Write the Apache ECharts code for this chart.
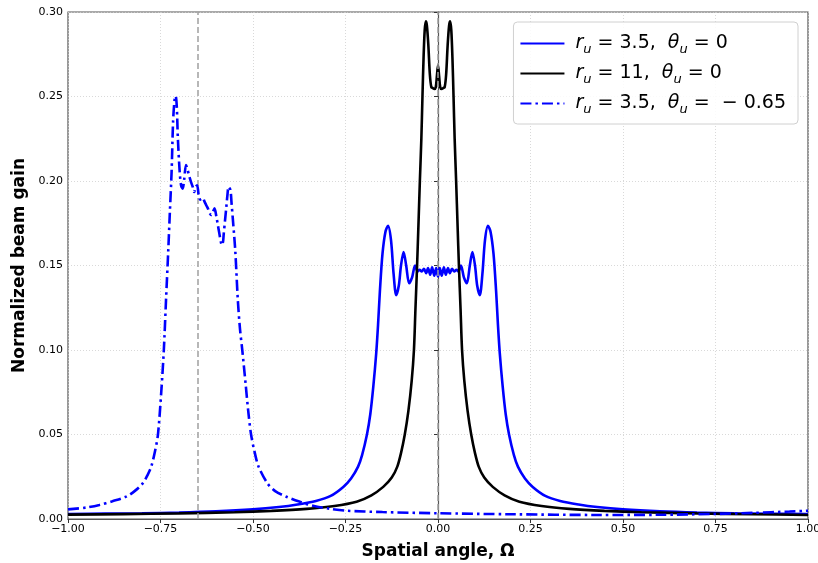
<!DOCTYPE html>
<html>
<head>
<meta charset="utf-8">
<script src="https://cdn.jsdelivr.net/npm/echarts@6/dist/echarts.min.js"></script>
<style>html,body{margin:0;padding:0;background:#fff}#c{width:818px;height:563px}</style>
</head>
<body>
<div id="c"></div>
<script>
// ---- data ----
const xTicks = [-1.0, -0.75, -0.5, -0.25, 0.0, 0.25, 0.5, 0.75, 1.0];
const yTicks = [0.0, 0.05, 0.10, 0.15, 0.20, 0.25, 0.30];
const refLines = [-0.65, 0];

// r_u = 3.5, theta_u = 0
const omegaA = [-1.0,-0.9,-0.8,-0.7,-0.6,-0.5,-0.43,-0.38,-0.33,-0.29,-0.256,-0.235,-0.216,-0.205,-0.192,-0.183,-0.175,-0.167,-0.162,-0.157,-0.15,-0.142,-0.135,-0.127,-0.12,-0.113,-0.106,-0.1,-0.093,-0.086,-0.078,-0.07,-0.062,-0.055,-0.05,-0.044,-0.038,-0.032,-0.027,-0.021,-0.016,-0.01,-0.005,0,
  0.005,0.01,0.016,0.021,0.027,0.032,0.038,0.044,0.05,0.055,0.062,0.07,0.078,0.086,0.093,0.1,0.106,0.113,0.12,0.127,0.135,0.142,0.15,0.157,0.162,0.167,0.175,0.183,0.192,0.205,0.216,0.235,0.256,0.29,0.33,0.38,0.43,0.5,0.6,0.7,0.8,0.9,1.0];
const gainA = [0.0030,0.0032,0.0034,0.0038,0.0045,0.0057,0.0071,0.0086,0.0107,0.0137,0.019,0.024,0.031,0.038,0.050,0.062,0.078,0.098,0.115,0.135,0.157,0.170,0.1735,0.165,0.145,0.1325,0.138,0.150,0.158,0.150,0.1395,0.143,0.150,0.1465,0.1475,0.1465,0.148,0.1455,0.1485,0.1445,0.149,0.144,0.1485,0.1435,
  0.1485,0.144,0.149,0.1445,0.1485,0.1455,0.148,0.1465,0.1475,0.1465,0.150,0.143,0.1395,0.150,0.158,0.150,0.138,0.1325,0.145,0.165,0.1735,0.170,0.157,0.135,0.115,0.098,0.078,0.062,0.050,0.038,0.031,0.024,0.019,0.0137,0.0107,0.0086,0.0071,0.0057,0.0045,0.0038,0.0034,0.0031,0.0029];

// r_u = 11, theta_u = 0
const omegaB = [-1.0,-0.85,-0.7,-0.55,-0.45,-0.355,-0.28,-0.22,-0.18,-0.148,-0.125,-0.11,-0.1,-0.09,-0.08,-0.071,-0.065,-0.061,-0.0565,-0.053,-0.049,-0.045,-0.042,-0.039,-0.036,-0.033,-0.03,-0.026,-0.022,-0.018,-0.014,-0.01,-0.006,-0.003,0,
  0.003,0.006,0.01,0.014,0.018,0.022,0.026,0.03,0.033,0.036,0.039,0.042,0.045,0.049,0.053,0.0565,0.061,0.065,0.071,0.08,0.09,0.1,0.11,0.125,0.148,0.18,0.22,0.28,0.355,0.45,0.55,0.7,0.85,1.0];
const gainB = [0.0026,0.0029,0.0033,0.0040,0.0048,0.0060,0.0077,0.0102,0.0140,0.019,0.0245,0.031,0.039,0.0497,0.064,0.082,0.100,0.124,0.150,0.173,0.200,0.225,0.250,0.273,0.289,0.2945,0.292,0.280,0.263,0.2555,0.255,0.2545,0.2555,0.262,0.2685,
  0.262,0.2555,0.2545,0.255,0.2555,0.263,0.280,0.292,0.2945,0.289,0.273,0.250,0.225,0.200,0.173,0.150,0.124,0.100,0.082,0.064,0.0497,0.039,0.031,0.0245,0.019,0.0140,0.0102,0.0077,0.0060,0.0048,0.0040,0.0033,0.0028,0.0024];

// r_u = 3.5, theta_u = -0.65
const omegaC = [-1.0,-0.95,-0.915,-0.88,-0.843,-0.82,-0.798,-0.785,-0.775,-0.765,-0.757,-0.748,-0.741,-0.735,-0.729,-0.725,-0.72,-0.716,-0.712,-0.709,-0.706,-0.703,-0.698,-0.694,-0.69,-0.686,-0.681,-0.676,-0.672,-0.667,-0.663,-0.659,-0.655,-0.651,-0.647,-0.643,-0.64,-0.636,-0.631,-0.626,-0.622,-0.617,-0.613,-0.608,-0.604,-0.599,-0.595,-0.591,-0.587,-0.584,-0.581,-0.579,-0.575,-0.572,-0.569,-0.566,-0.561,-0.558,-0.555,-0.548,-0.541,-0.535,-0.529,-0.52,-0.512,-0.505,-0.495,-0.485,-0.461,-0.44,-0.41,-0.375,-0.338,-0.29,-0.248,-0.15,0,0.2,0.43,0.6,0.75,0.85,0.95,1.0];
const gainC = [0.0057,0.0068,0.0083,0.0105,0.0132,0.0165,0.0211,0.026,0.031,0.040,0.0497,0.075,0.100,0.130,0.159,0.180,0.2055,0.235,0.248,0.2503,0.244,0.225,0.205,0.197,0.1955,0.201,0.2095,0.206,0.2026,0.199,0.1966,0.1935,0.1965,0.1975,0.192,0.189,0.1895,0.190,0.1878,0.1855,0.1838,0.181,0.1799,0.182,0.1838,0.1789,0.174,0.169,0.164,0.162,0.164,0.169,0.178,0.1848,0.192,0.1966,0.1947,0.187,0.1789,0.159,0.1296,0.112,0.100,0.080,0.062,0.0497,0.039,0.031,0.0211,0.0165,0.0132,0.0103,0.0078,0.0060,0.0049,0.0041,0.0034,0.0028,0.0024,0.0025,0.0030,0.0036,0.0044,0.0049];

const FONT = 'DejaVu Sans';
function pairs(xs, ys){ return xs.map((x,i)=>[x, ys[i]]); }
function fmt(v){ return v.toFixed(2).replace('-', '\u2212'); }

const legendText = {
  A: '{i|r}{s|u}{n| = 3.5,  }{i|θ}{s|u}{n| = 0}',
  B: '{i|r}{s|u}{n| = 11,  }{i|θ}{s|u}{n| = 0}',
  C: '{i|r}{s|u}{n| = 3.5,  }{i|θ}{s|u}{n| =  \u2212 0.65}'
};

const chart = echarts.init(document.getElementById('c'), null, {renderer:'canvas'});
chart.setOption({
  animation: false,
  backgroundColor: '#fff',
  textStyle: {fontFamily: FONT},
  grid: {left: 68, right: 10, top: 12, bottom: 44, containLabel: false, outerBoundsMode: 'none',
    show: true, borderColor: '#555', borderWidth: 1.2},
  xAxis: {
    type: 'value', min: xTicks[0], max: xTicks[xTicks.length-1], interval: 0.25,
    name: 'Spatial angle, Ω', nameLocation: 'middle', nameGap: 24,
    nameTextStyle: {fontFamily: FONT, fontWeight: 'bold', fontSize: 17, color: '#000'},
    axisLine: {show: true, onZero: false, lineStyle: {color: '#555', width: 1.2}},
    axisTick: {show: true, length: 4, lineStyle: {color: '#333'}},
    axisLabel: {fontFamily: FONT, fontSize: 11, color: '#000', margin: 5, formatter: fmt},
    splitLine: {show: true, lineStyle: {color: '#cfcfcf', type: [1,2], width: 0.8}}
  },
  yAxis: {
    type: 'value', min: yTicks[0], max: yTicks[yTicks.length-1], interval: 0.05,
    name: 'Normalized beam gain', nameLocation: 'middle', nameGap: 39,
    nameTextStyle: {fontFamily: FONT, fontWeight: 'bold', fontSize: 17, color: '#000'},
    axisLine: {show: true, lineStyle: {color: '#555', width: 1.2}},
    axisTick: {show: true, length: 4, lineStyle: {color: '#333'}},
    axisLabel: {fontFamily: FONT, fontSize: 11, color: '#000', margin: 5, formatter: fmt},
    splitLine: {show: true, lineStyle: {color: '#cfcfcf', type: [1,2], width: 0.8}}
  },
  legend: {
    orient: 'vertical', right: 20, top: 22,
    data: ['A','B','C'],
    itemWidth: 44, itemHeight: 14, itemGap: 8,
    padding: [12, 12, 8, 6],
    backgroundColor: 'rgba(255,255,255,0.85)',
    borderColor: '#d0d0d0', borderWidth: 1, borderRadius: 4,
    itemStyle: {opacity: 0, borderWidth: 0},
    formatter: n => legendText[n],
    textStyle: {
      fontFamily: FONT, fontSize: 19, color: '#000', padding: [0,0,0,6],
      rich: {
        i: {fontFamily: FONT, fontStyle: 'italic', fontSize: 19, color: '#000', lineHeight: 25},
        n: {fontFamily: FONT, fontSize: 19, color: '#000', lineHeight: 25},
        s: {fontFamily: FONT, fontStyle: 'italic', fontSize: 13, color: '#000', verticalAlign: 'bottom', lineHeight: 25}
      }
    }
  },
  series: [
    {
      name: 'ref', type: 'line', data: [], silent: true, z: 1,
      markLine: {
        silent: true, symbol: 'none', label: {show: false},
        lineStyle: {color: '#a0a0a0', type: [6,3], width: 1.5},
        data: refLines.map(v => ({xAxis: v}))
      }
    },
    {
      name: 'A', type: 'line', data: pairs(omegaA, gainA), showSymbol: false, symbol: 'none',
      smooth: 0.3, lineStyle: {color: '#0000ff', width: 2.6}, itemStyle: {color: '#0000ff'}, z: 3
    },
    {
      name: 'B', type: 'line', data: pairs(omegaB, gainB), showSymbol: false, symbol: 'none',
      smooth: 0.3, lineStyle: {color: '#000000', width: 2.6}, itemStyle: {color: '#000000'}, z: 4
    },
    {
      name: 'C', type: 'line', data: pairs(omegaC, gainC), showSymbol: false, symbol: 'none',
      smooth: 0.3, lineStyle: {color: '#0000ff', width: 2.6, type: [11,4,2.5,4]}, itemStyle: {color: '#0000ff'}, z: 5
    }
  ]
});
</script>
</body>
</html>
